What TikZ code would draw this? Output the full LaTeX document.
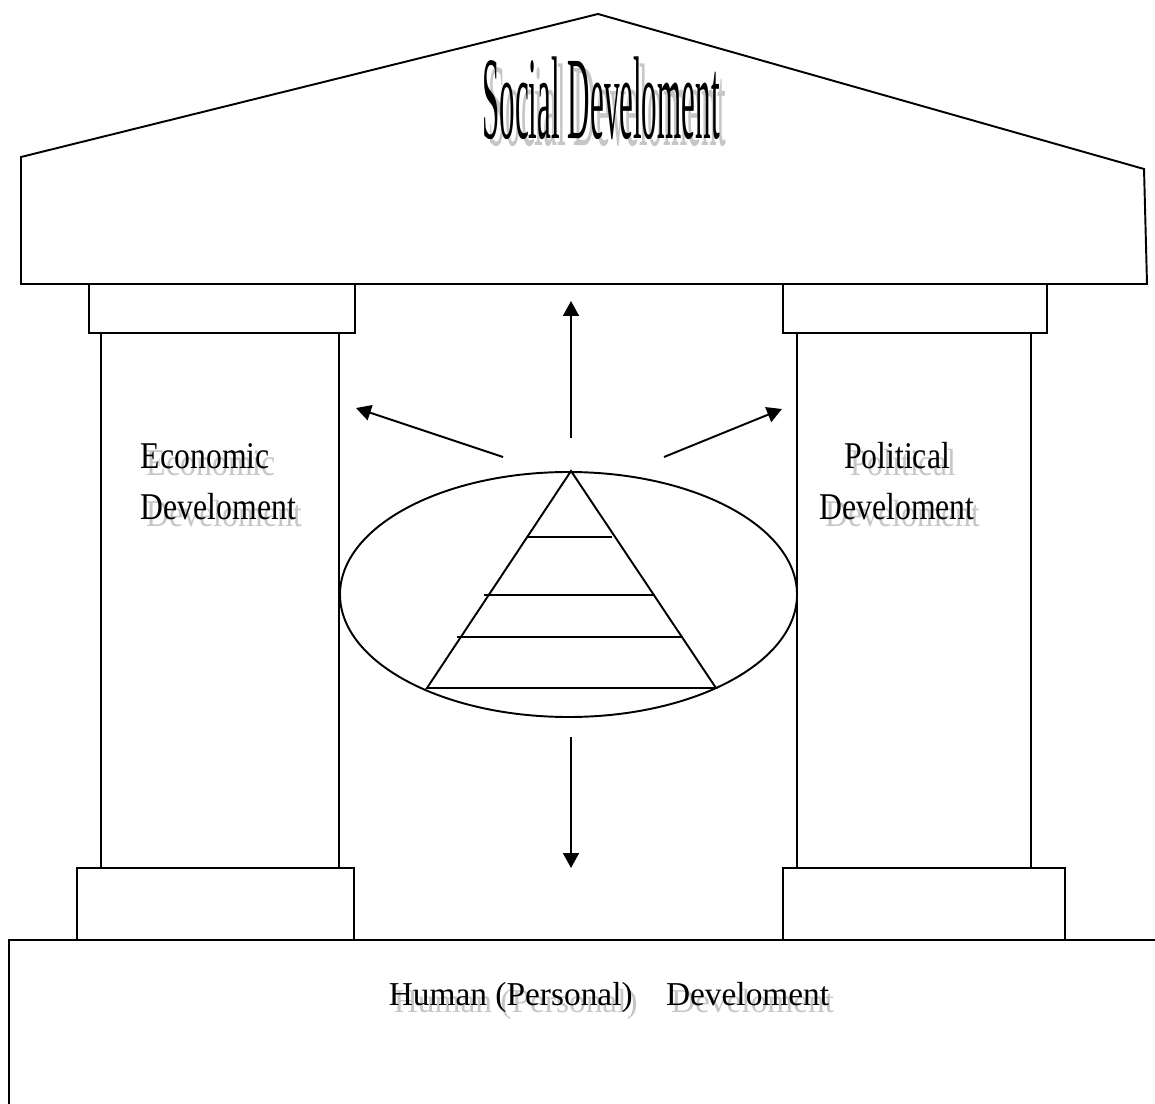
\documentclass[tikz,border=0pt]{standalone}
\usepackage{fontspec}
\setmainfont{Liberation Serif}
\newfontfamily\roofface[FakeStretch=0.264]{Liberation Serif}
\newfontfamily\pillarface[FakeStretch=0.84]{Liberation Serif}
\usetikzlibrary{arrows.meta}
\tikzset{
  >={Triangle[length=8.5pt,width=9pt]},
  devtext/.style = {anchor=base, inner sep=0pt, text=black},
  ghost/.style = {devtext, text=gray!45},
  rooftext/.style = {font=\roofface\fontsize{67}{67}\selectfont},
  pillartext/.style = {font=\pillarface\fontsize{21.5}{29}\selectfont},
  groundtext/.style = {font=\fontsize{19}{22}\selectfont},
}

\begin{document}
\begin{tikzpicture}[x=0.02cm, y=-0.02cm, line width=1.1pt]
    \useasboundingbox (0,0) rectangle (1155,1104);
    % roof
    \draw (21,284) -- (21,157) -- (598,14) -- (1144,169) -- (1147,284) -- cycle;
    % left pillar
    \draw (89,284) rectangle (355,333);
    \draw (101,333) rectangle (339,868);
    \draw (77,868) rectangle (354,940);
    % right pillar
    \draw (783,284) rectangle (1047,333);
    \draw (797,333) rectangle (1031,868);
    \draw (783,868) rectangle (1065,940);
    % ground
    \draw (1155,940) -- (9,940) -- (9,1104);
    % centre
    \draw (568.5,594.5) ellipse [x radius=228.5, y radius=122.5];
    \draw (571,471) -- (716,688) -- (427,688) -- cycle;
    \draw (528,537) -- (612,537);
    \draw (484,595) -- (655,595);
    \draw (457,637) -- (683,637);
    % texts
    \node [ghost, rooftext] (social-s) at (607,146) {Social Develoment};
    \node [devtext, rooftext] (social) at (601,139) {Social Develoment};
    \node [ghost, pillartext, anchor=base west, align=left] (econ-s) at (146,526) {Economic\\Develoment};
    \node [devtext, pillartext, anchor=base west, align=left] (econ) at (140,519) {Economic\\Develoment};
    \node [ghost, pillartext, align=center] (pol-s) at (903,526) {Political\\Develoment};
    \node [devtext, pillartext, align=center] (pol) at (897,519) {Political\\Develoment};
    \node [ghost, groundtext] (human-s) at (614,1012) {Human (Personal)\quad Develoment};
    \node [devtext, groundtext] (human) at (609,1005) {Human (Personal)\quad Develoment};
    % arrows
    \coordinate (up-s) at (571,438);
    \coordinate (up-e) at (571,301);
    \coordinate (left-s) at (503,457);
    \coordinate (left-e) at (356,408);
    \coordinate (right-s) at (664,457);
    \coordinate (right-e) at (782,409);
    \coordinate (down-s) at (571,737);
    \coordinate (down-e) at (571,868);
    \draw [->] (up-s) -- (up-e);
    \draw [->] (left-s) -- (left-e);
    \draw [->] (right-s) -- (right-e);
    \draw [->] (down-s) -- (down-e);
\end{tikzpicture}
\end{document}
